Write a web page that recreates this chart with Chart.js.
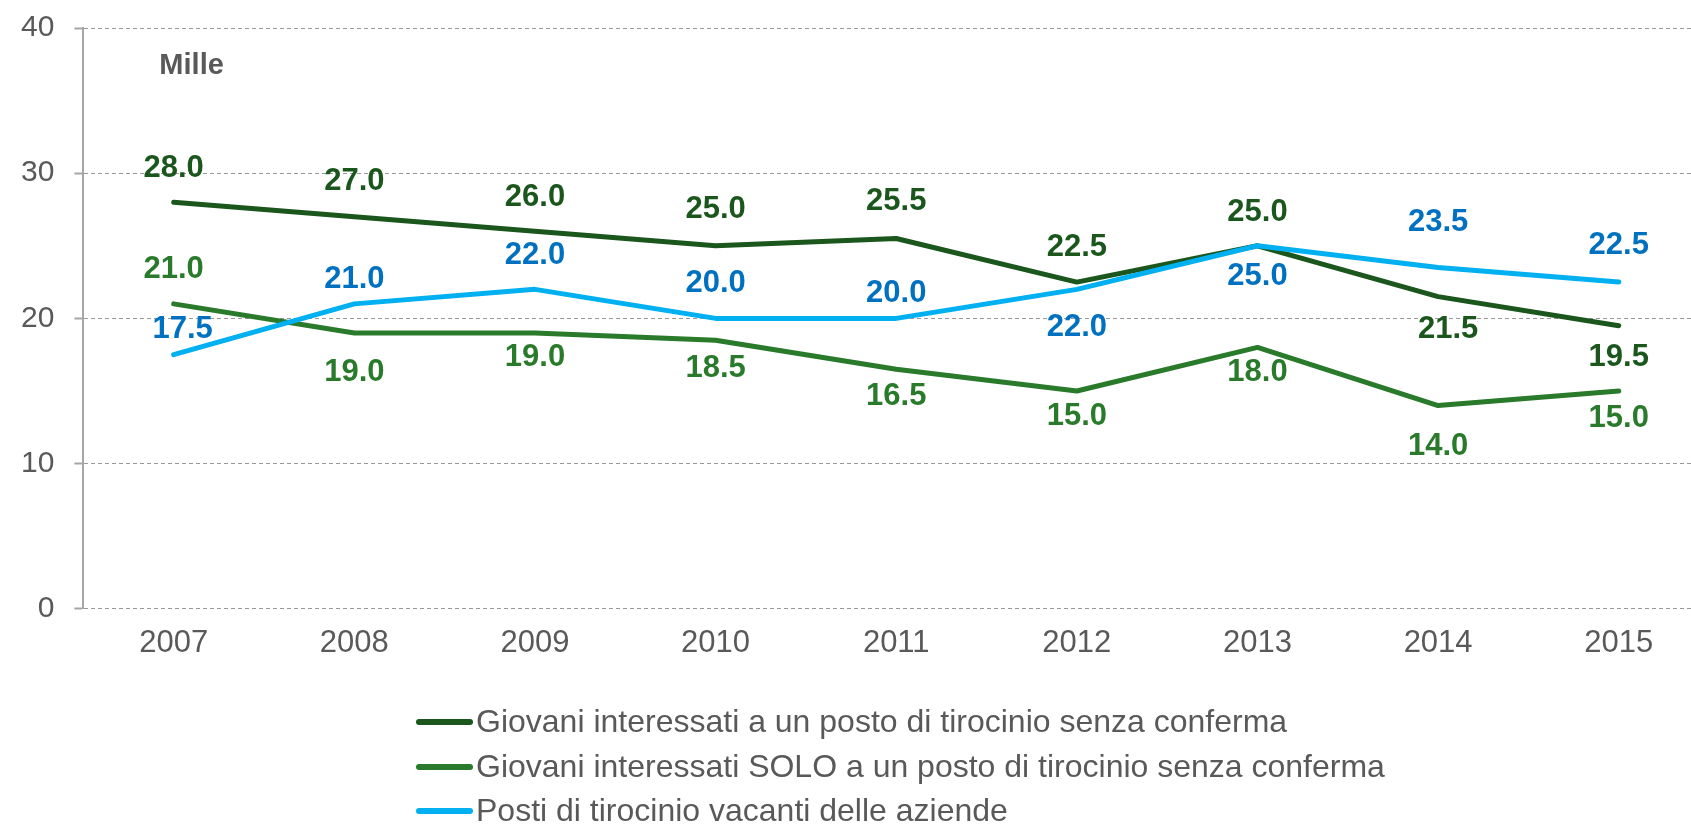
<!DOCTYPE html>
<html>
<head>
<meta charset="utf-8">
<title>Posti di tirocinio</title>
<script src="https://cdn.jsdelivr.net/npm/chart.js@4"></script>
<style>
  html, body { margin: 0; padding: 0; background: #fff; }
  #wrap { width: 1691px; height: 825px; position: relative; }
</style>
</head>
<body>
<div id="wrap"><canvas id="tirocinioChart"></canvas></div>
<script>
// data (Mille)
const years = [2007, 2008, 2009, 2010, 2011, 2012, 2013, 2014, 2015];
const seriesNames = [
    'Giovani interessati a un posto di tirocinio senza conferma',
    'Giovani interessati SOLO a un posto di tirocinio senza conferma',
    'Posti di tirocinio vacanti delle aziende'
];
const interessati = [28.0, 27.0, 26.0, 25.0, 25.5, 22.5, 25.0, 21.5, 19.5];
const soloInteressati = [21.0, 19.0, 19.0, 18.5, 16.5, 15.0, 18.0, 14.0, 15.0];
const postiVacanti = [17.5, 21.0, 22.0, 20.0, 20.0, 22.0, 25.0, 23.5, 22.5];
const yTicks = [0, 10, 20, 30, 40];
const unitLabel = 'Mille';

// where each value label sits relative to its point (px)
const shiftInteressati = [-34, -35, -34, -36, -37, -35, -33, 33, 32];
const shiftSolo = [-34, 40, 25, 28, 27, 25, 25, 41, 27];
const shiftVacanti = [-25, -24, -34, -35, -25, 38, 31, -45, -37];

const textGray = '#595959';
const darkGreen = '#1b561d';
const midGreen = '#2a7a2c';
const lightBlue = '#00b0f0';
const labelBlue = '#0070c0';
const fontFamily = '"Liberation Sans", Arial, sans-serif';

function toPoints(values) {
    return years.map((y, i) => ({ x: y, y: values[i] }));
}

// draws the numbers next to each point
const valueLabels = {
    id: 'valueLabels',
    afterDatasetsDraw(chart) {
        const ctx = chart.ctx;
        ctx.save();
        ctx.font = 'bold 31px ' + fontFamily;
        ctx.textAlign = 'center';
        ctx.textBaseline = 'middle';
        chart.data.datasets.forEach((ds, di) => {
            const meta = chart.getDatasetMeta(di);
            ctx.fillStyle = ds.labelColor;
            meta.data.forEach((pt, i) => {
                const dx = (di === 2 && i === 0) ? 9 : (di === 0 && i === 7 ? 10 : 0);
                ctx.fillText(ds.data[i].y.toFixed(1), pt.x + dx, pt.y + ds.labelShift[i]);
            });
        });
        ctx.restore();
    }
};

// unit text and the legend underneath
const extras = {
    id: 'extras',
    afterDraw(chart) {
        const ctx = chart.ctx;
        const area = chart.chartArea;
        ctx.save();
        ctx.fillStyle = textGray;
        ctx.font = 'bold 29px ' + fontFamily;
        ctx.textAlign = 'left';
        ctx.textBaseline = 'middle';
        ctx.fillText(unitLabel, area.left + 76, area.top + 38);

        const rows = [722, 767, 811];
        ctx.font = '32px ' + fontFamily;
        chart.data.datasets.forEach((ds, i) => {
            const y = rows[i];
            ctx.strokeStyle = ds.borderColor;
            ctx.lineWidth = 6;
            ctx.lineCap = 'round';
            ctx.beginPath();
            ctx.moveTo(419, y);
            ctx.lineTo(470, y);
            ctx.stroke();
            ctx.fillStyle = textGray;
            ctx.fillText(seriesNames[i], 476, y + 1);
        });
        ctx.restore();
    }
};

const ctx = document.getElementById('tirocinioChart').getContext('2d');
new Chart(ctx, {
    type: 'line',
    data: {
        datasets: [
            {
                label: seriesNames[0],
                data: toPoints(interessati),
                borderColor: darkGreen,
                labelColor: darkGreen,
                labelShift: shiftInteressati,
                order: 2
            },
            {
                label: seriesNames[1],
                data: toPoints(soloInteressati),
                borderColor: midGreen,
                labelColor: midGreen,
                labelShift: shiftSolo,
                order: 1
            },
            {
                label: seriesNames[2],
                data: toPoints(postiVacanti),
                borderColor: lightBlue,
                labelColor: labelBlue,
                labelShift: shiftVacanti,
                order: 0
            }
        ]
    },
    options: {
        responsive: true,
        maintainAspectRatio: false,
        animation: false,
        layout: {
            padding: { top: 28, left: 1, right: 0, bottom: 147 }
        },
        elements: {
            line: { borderWidth: 5, tension: 0, borderCapStyle: 'round', borderJoinStyle: 'round', fill: false },
            point: { radius: 0, hoverRadius: 0 }
        },
        scales: {
            x: {
                type: 'linear',
                min: 2006.5,
                max: 2015.4,
                afterBuildTicks: (scale) => {
                    scale.ticks = years.map(v => ({ value: v }));
                },
                ticks: {
                    color: textGray,
                    font: { family: fontFamily, size: 31 },
                    padding: 16,
                    maxRotation: 0,
                    autoSkip: false,
                    callback: (value) => String(value)
                },
                grid: { display: false, drawTicks: false },
                border: { display: false }
            },
            y: {
                min: 0,
                max: 40,
                afterBuildTicks: (scale) => {
                    scale.ticks = yTicks.map(v => ({ value: v }));
                },
                // the label padding should not push the plot down
                afterFit: (scale) => {
                    scale.paddingTop = 16;
                },
                ticks: {
                    color: textGray,
                    font: { family: fontFamily, size: 30 },
                    padding: 20
                },
                grid: {
                    color: '#999999',
                    lineWidth: 1,
                    drawTicks: true,
                    tickLength: 9,
                    tickColor: '#a6a6a6',
                    tickWidth: 2,
                    tickBorderDash: []
                },
                border: { display: true, color: '#a6a6a6', width: 2, dash: [4, 3] }
            }
        },
        plugins: {
            legend: { display: false },
            tooltip: { enabled: false }
        }
    },
    plugins: [valueLabels, extras]
});
</script>
</body>
</html>
